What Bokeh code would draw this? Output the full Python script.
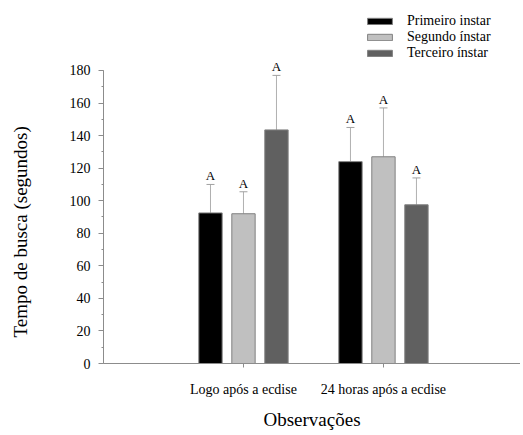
from bokeh.plotting import figure
from bokeh.models import (ColumnDataSource, FixedTicker, SingleIntervalTicker, Whisker,
                          TeeHead, LabelSet, Legend, LegendItem, Range1d)
from bokeh.embed import file_html
from bokeh.resources import INLINE

# ---- data ----
groups = ["Logo após a ecdise", "24 horas após a ecdise"]
series = ["Primeiro instar", "Segundo ínstar", "Terceiro ínstar"]
means_logo = [92.5, 92.0, 143.5]
means_24h = [124.0, 127.0, 97.5]
err_logo = [17.5, 13.5, 33.5]
err_24h = [21.0, 30.0, 16.5]
letters_logo = ["A", "A", "A"]
letters_24h = ["A", "A", "A"]
colors = ["#000000", "#c0c0c0", "#606060"]
y_title = "Tempo de busca (segundos)"
x_title = "Observações"

FONT = "Liberation Serif"
BAR_W = 0.1667
STEP = 0.2357

p = figure(width=520, height=432, output_backend="svg", toolbar_location=None,
           x_range=Range1d(0, 2.979), y_range=Range1d(0, 223.0),
           min_border_left=103, min_border_right=0, min_border_top=0, min_border_bottom=69)
p.outline_line_color = None
p.xgrid.visible = False
p.ygrid.visible = False
p.background_fill_color = "white"
p.border_fill_color = "white"

means = [means_logo, means_24h]
errs = [err_logo, err_24h]
letters = [letters_logo, letters_24h]

items = []
for si, name in enumerate(series):
    xs = [gi + 1 + (si - 1) * STEP for gi in range(len(groups))]
    tops = [means[gi][si] for gi in range(len(groups))]
    uppers = [means[gi][si] + errs[gi][si] for gi in range(len(groups))]
    lets = [letters[gi][si] for gi in range(len(groups))]
    src = ColumnDataSource(dict(x=xs, top=tops, upper=uppers, let=lets))
    w = Whisker(source=src, base="x", upper="upper", lower="top", dimension="height",
                line_color="#b0b0b0", line_width=1,
                upper_head=TeeHead(size=8, line_color="#a0a0a0", line_width=1),
                lower_head=None, level="underlay")
    p.add_layout(w)
    r = p.vbar(x="x", top="top", width=BAR_W, source=src, fill_color=colors[si],
               line_color="#808080", line_width=1)
    items.append(LegendItem(label=name, renderers=[r]))
    ls = LabelSet(x="x", y="upper", text="let", source=src, text_align="center",
                  text_baseline="alphabetic", y_offset=4, text_font=FONT,
                  text_font_size="13px", text_color="#000000")
    p.add_layout(ls)

legend = Legend(items=items, location=(261, 302), orientation="vertical",
                glyph_width=31, glyph_height=8, label_height=16, label_standoff=12,
                spacing=0, padding=0, margin=0, border_line_color=None,
                background_fill_alpha=0, label_text_font=FONT,
                label_text_font_size="14px", label_text_color="#000000")
p.add_layout(legend, "center")

# axes
ya = p.yaxis[0]
ya.ticker = SingleIntervalTicker(interval=20, num_minor_ticks=2)
ya.bounds = (0, 180)
ya.axis_line_color = "#8c8c8c"
ya.major_tick_line_color = "#8c8c8c"
ya.minor_tick_line_color = "#8c8c8c"
ya.major_tick_in = 0
ya.major_tick_out = 5
ya.minor_tick_in = 0
ya.minor_tick_out = 2
ya.major_label_standoff = 8
ya.major_label_text_font = FONT
ya.major_label_text_font_size = "14px"
ya.major_label_text_color = "#000000"
# non-breaking spaces keep the title centred on the 0-180 part of the axis
ya.axis_label = y_title + "\u00a0" * 21
ya.axis_label_text_font = FONT
ya.axis_label_text_font_size = "19px"
ya.axis_label_text_font_style = "normal"
ya.axis_label_text_color = "#000000"
ya.axis_label_standoff = 36

xa = p.xaxis[0]
xa.ticker = FixedTicker(ticks=[1, 2], minor_ticks=[])
xa.major_label_overrides = {1: groups[0], 2: groups[1]}
xa.axis_line_color = "#8c8c8c"
xa.major_tick_line_color = "#8c8c8c"
xa.major_tick_in = 0
xa.major_tick_out = 4
xa.major_label_standoff = 14
xa.major_label_text_font = FONT
xa.major_label_text_font_size = "14px"
xa.major_label_text_color = "#000000"
xa.axis_label = x_title
xa.axis_label_text_font = FONT
xa.axis_label_text_font_size = "19px"
xa.axis_label_text_font_style = "normal"
xa.axis_label_text_color = "#000000"
xa.axis_label_standoff = 9

open("out.html", "w").write(file_html(p, INLINE))
